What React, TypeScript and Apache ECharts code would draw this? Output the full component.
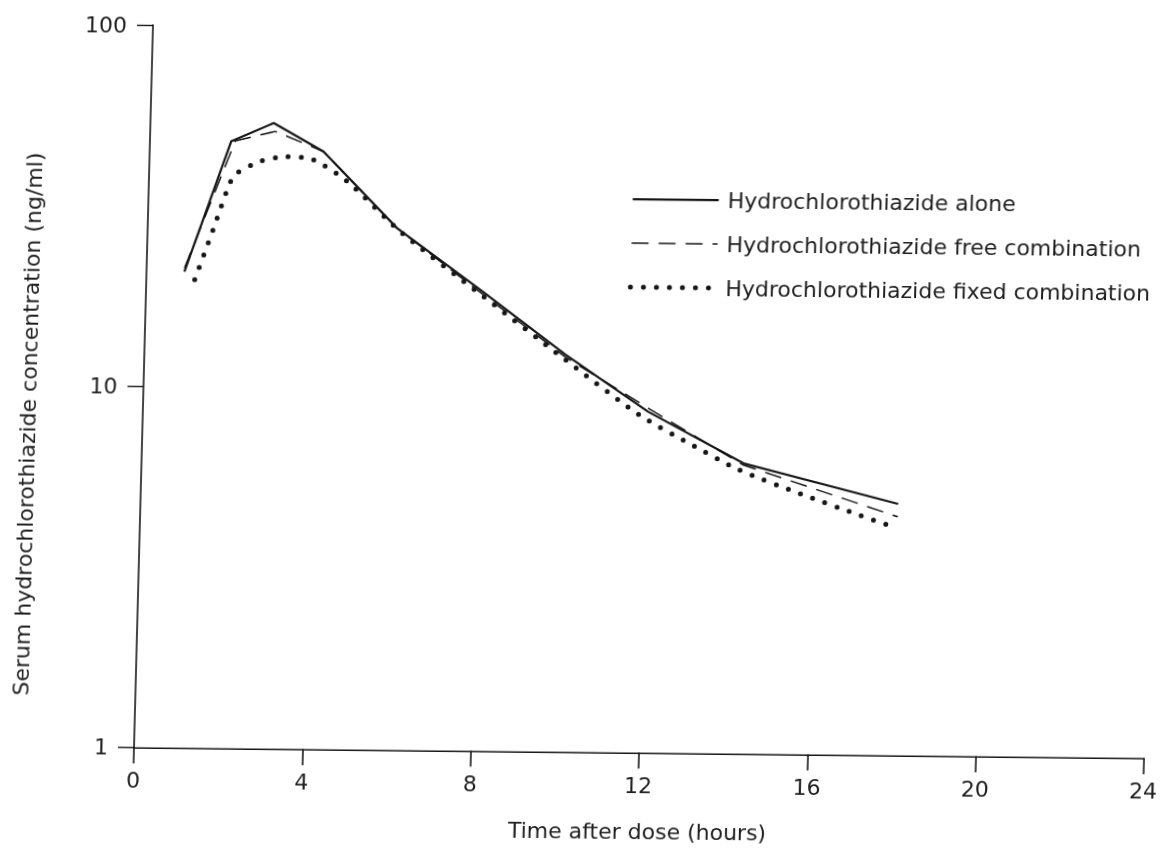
import React, { useEffect, useRef } from 'react';
import * as echarts from 'echarts';

// ---- data ----
const seriesNames = [
  'Hydrochlorothiazide alone',
  'Hydrochlorothiazide free combination',
  'Hydrochlorothiazide fixed combination',
];

const xTickStep = 4;
const xMax = 24;
const yLogMin = 1;
const yLogMax = 100;

const aloneHours = [0.9, 1.93, 2.93, 4.13, 5.92, 8, 10, 12, 14.3, 18];
const aloneConc = [20.8, 47.9, 54.0, 45.2, 27.9, 18.7, 12.6, 8.8, 6.37, 4.97];

const freeHours = [0.9, 2.03, 2.97, 4.13, 5.92, 8, 10, 12, 14.3, 18];
const freeConc = [21.3, 48.1, 51.2, 45.2, 27.9, 18.4, 12.4, 9.0, 6.3, 4.58];

const fixedHours = [1.15, 1.58, 1.9, 2.05, 2.62, 3.25, 3.84, 4.71, 6, 8, 10, 11.8, 12.97, 14.17, 15.68, 16.96, 17.95];
const fixedConc = [19.8, 27.8, 36.1, 38.9, 42.2, 43.6, 43.1, 37.4, 27.3, 18.2, 12.2, 8.61, 7.24, 6.13, 5.26, 4.67, 4.27];

const xAxisTitle = 'Time after dose (hours)';
const yAxisTitle = 'Serum hydrochlorothiazide concentration (ng/ml)';

const zip = (xs: number[], ys: number[]) => xs.map((x, i) => [x, ys[i]]);

const FONT = 'DejaVu Sans';
const INK = '#161616';
const TEXT = '#1e1e1e';

const solidStyle = { color: INK, width: 2.2, type: 'solid', join: 'round' };
const dashedStyle = { color: INK, width: 1.5, type: [17, 10] };
const dottedStyle = { color: INK, width: 5, type: [0, 13], cap: 'round' };

export default function App() {
  const ref = useRef<HTMLDivElement>(null);

  useEffect(() => {
    if (!ref.current) return;
    const chart = echarts.init(ref.current, null, { renderer: 'svg' });
    chart.setOption({
      animation: false,
      backgroundColor: '#ffffff',
      grid: { left: 133.3, right: 15.1, top: 25.1, bottom: 100.7, containLabel: false },
      xAxis: {
        type: 'value',
        min: 0,
        max: xMax,
        interval: xTickStep,
        name: xAxisTitle,
        nameLocation: 'middle',
        nameGap: 68,
        nameTextStyle: { fontFamily: FONT, fontSize: 22, color: TEXT },
        axisLine: { show: true, onZero: false, lineStyle: { color: INK, width: 1.6 } },
        axisTick: { show: true, length: 16, lineStyle: { color: INK, width: 1.6 } },
        axisLabel: { margin: 22, fontFamily: FONT, fontSize: 22, color: TEXT },
        splitLine: { show: false },
      },
      yAxis: {
        type: 'log',
        logBase: 10,
        min: yLogMin,
        max: yLogMax,
        name: yAxisTitle,
        nameLocation: 'middle',
        nameGap: 104,
        nameTextStyle: { fontFamily: FONT, fontSize: 22, color: TEXT, padding: [0, 78, 0, 0] },
        axisLine: { show: true, lineStyle: { color: INK, width: 1.6 } },
        axisTick: { show: true, length: 16, lineStyle: { color: INK, width: 1.4 } },
        axisLabel: { margin: 26, fontFamily: FONT, fontSize: 22, color: TEXT },
        splitLine: { show: false },
      },
      legend: {
        orient: 'vertical',
        left: 610.7,
        top: 177,
        itemWidth: 86,
        itemHeight: 24,
        itemGap: 20,
        itemStyle: { opacity: 0 },
        textStyle: { fontFamily: FONT, fontSize: 22, color: TEXT, padding: [0, 0, 0, 4], lineHeight: 24 },
        data: [
          { name: seriesNames[0], lineStyle: solidStyle },
          { name: seriesNames[1], lineStyle: dashedStyle },
          { name: seriesNames[2], lineStyle: dottedStyle },
        ],
      },
      series: [
        {
          name: seriesNames[0],
          type: 'line',
          data: zip(aloneHours, aloneConc),
          showSymbol: false,
          symbol: 'none',
          lineStyle: solidStyle,
        },
        {
          name: seriesNames[1],
          type: 'line',
          data: zip(freeHours, freeConc),
          showSymbol: false,
          symbol: 'none',
          lineStyle: dashedStyle,
        },
        {
          name: seriesNames[2],
          type: 'line',
          data: zip(fixedHours, fixedConc),
          showSymbol: false,
          symbol: 'none',
          smooth: 0.25,
          lineStyle: dottedStyle,
        },
      ],
    });
    return () => chart.dispose();
  }, []);

  return (
    <div
      ref={ref}
      style={{
        position: 'fixed',
        left: 0,
        top: 0,
        width: 1161,
        height: 848,
        background: '#ffffff',
        transformOrigin: '133.3px 747.3px',
        transform: 'matrix(1, 0.01067, -0.0263, 1, 0, 0)',
      }}
    />
  );
}
